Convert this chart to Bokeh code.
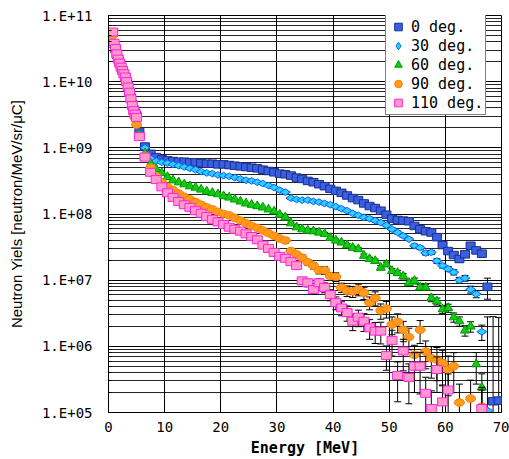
import numpy as np
from bokeh.plotting import figure
from bokeh.models import (ColumnDataSource, Legend, LegendItem, CustomJSTickFormatter,
                          FixedTicker)
from bokeh.embed import file_html
from bokeh.resources import INLINE

# Neutron energy bins [MeV]
energy = [0.75, 1.0, 1.25, 1.5, 1.75, 2.0, 2.25, 2.5, 2.75, 3.0, 3.25, 3.5, 3.75,
          4.0, 4.25, 4.5, 4.75, 5.0,
          5.5, 6.5, 7.5, 8.5, 9.5, 10.5, 11.5, 12.5, 13.5, 14.5, 15.5, 16.5, 17.5,
          18.5, 19.5, 20.5, 21.5, 22.5, 23.5, 24.5, 25.5, 26.5, 27.5, 28.5, 29.5,
          30.5, 31.5, 32.5, 33.5, 34.5, 35.5, 36.5, 37.5, 38.5, 39.5, 40.5, 41.5,
          42.5, 43.5, 44.5, 45.5, 46.5, 47.5, 48.5, 49.5, 50.5, 51.5, 52.5, 53.5,
          54.5, 55.5, 56.5, 57.5, 58.5, 59.5, 60.5, 61.5, 62.5, 63.5, 64.5, 65.5,
          66.5, 67.5, 68.5, 69.5]

nan = float("nan")

# log10 of the neutron yield [neutron/MeV/sr/uC] for each angle
log_yield_0 = [10.74, 10.57, 10.49, 10.41, 10.34, 10.28, 10.22, 10.17, 10.12, 10.07, 10.00, 9.93, 9.85,
               9.76, 9.66, 9.58, 9.53, 9.49,
               9.24, 9.02, 8.91, 8.86, 8.83, 8.81, 8.80, 8.79, 8.79, 8.78, 8.78, 8.77, 8.76,
               8.76, 8.75, 8.75, 8.74, 8.73, 8.72, 8.71, 8.70, 8.69, 8.67, 8.65, 8.63,
               8.61, 8.60, 8.58, 8.55, 8.53, 8.50, 8.48, 8.45, 8.42, 8.38, 8.35, 8.32,
               8.28, 8.24, 8.21, 8.16, 8.12, 8.09, 8.05, 7.99, 7.93, 7.91, 7.90, 7.89,
               7.82, 7.77, 7.74, 7.72, 7.65, 7.53, 7.44, 7.38, 7.32, 7.39, 7.52, 7.45,
               7.40, 6.90, 5.17, 5.18]
log_yield_30 = [10.74, 10.57, 10.49, 10.41, 10.33, 10.27, 10.21, 10.16, 10.11, 10.06, 9.99, 9.91, 9.83,
                9.74, 9.64, 9.56, 9.51, 9.47,
                9.22, 9.00, 8.84, 8.80, 8.78, 8.77, 8.75, 8.73, 8.71, 8.69, 8.67, 8.64, 8.62,
                8.61, 8.59, 8.58, 8.57, 8.55, 8.53, 8.51, 8.50, 8.48, 8.46, 8.43, 8.40,
                8.36, 8.33, 8.24, 8.22, 8.21, 8.21, 8.19, 8.18, 8.16, 8.14, 8.11, 8.08,
                8.05, 8.01, 7.98, 7.95, 7.93, 7.90, 7.87, 7.83, 7.77, 7.72, 7.67, 7.62,
                7.52, 7.49, 7.41, 7.42, 7.29, 7.22, 7.17, 7.12, 7.00, 7.03, 6.86, 6.79,
                6.22, 5.03, nan, nan]
log_yield_60 = [10.73, 10.56, 10.48, 10.40, 10.33, 10.27, 10.21, 10.16, 10.11, 10.06, 9.99, 9.91, 9.83,
                9.73, 9.63, 9.55, 9.50, 9.45,
                9.20, 8.92, 8.76, 8.68, 8.62, 8.56, 8.51, 8.48, 8.45, 8.42, 8.40, 8.37, 8.34,
                8.32, 8.30, 8.27, 8.25, 8.22, 8.19, 8.16, 8.14, 8.12, 8.10, 8.07, 8.04,
                7.99, 7.95, 7.86, 7.80, 7.77, 7.75, 7.74, 7.72, 7.70, 7.64, 7.60, 7.57,
                7.53, 7.49, 7.47, 7.37, 7.32, 7.29, 7.19, 7.24, 7.14, 7.11, 7.06, 6.96,
                6.99, 6.89, 6.89, 6.73, 6.68, 6.56, 6.58, 6.44, 6.38, 6.24, 6.30, 5.73,
                5.38, nan, nan, nan]
log_yield_90 = [10.70, 10.55, 10.47, 10.39, 10.32, 10.26, 10.20, 10.15, 10.10, 10.05, 9.98, 9.90, 9.82,
                9.72, 9.62, 9.53, 9.45, 9.35,
                9.18, 8.88, 8.70, 8.57, 8.48, 8.41, 8.36, 8.31, 8.26, 8.22, 8.18, 8.14, 8.10,
                8.07, 8.03, 8.00, 7.98, 7.94, 7.90, 7.86, 7.82, 7.79, 7.75, 7.71, 7.67,
                7.63, 7.60, 7.44, 7.39, 7.34, 7.27, 7.22, 7.15, 7.15, 7.06, 7.05, 6.89,
                6.84, 6.83, 6.86, 6.81, 6.66, 6.73, 6.54, 6.57, 6.33, 6.37, 6.25, 6.14,
                5.87, 6.25, 5.92, 5.82, 5.80, 5.75, 5.65, 5.70, 5.15, nan, 5.21, nan,
                5.09, nan, nan, nan]
log_yield_110 = [10.75, 10.58, 10.50, 10.42, 10.34, 10.28, 10.22, 10.17, 10.12, 10.07, 10.00, 9.92, 9.84,
                 9.74, 9.64, 9.56, 9.51, 9.46,
                 9.17, 8.86, 8.63, 8.52, 8.41, 8.32, 8.25, 8.19, 8.14, 8.10, 8.05, 8.01, 7.96,
                 7.92, 7.88, 7.84, 7.80, 7.77, 7.74, 7.70, 7.66, 7.61, 7.53, 7.48, 7.42,
                 7.36, 7.33, 7.28, 7.22, 6.99, 6.96, 6.86, 6.96, 6.89, 6.78, 6.66, 6.58,
                 6.51, 6.38, 6.44, 6.38, 6.28, 6.23, 6.23, 5.86, 6.09, 5.56, 5.93, 5.53,
                 5.70, 5.70, 5.29, 5.06, 5.65, 5.16, 5.34, nan, nan, nan, nan, nan,
                 5.06, nan, nan, nan]

# Relative statistical errors for the bins from 30.5 MeV upward
err_start = 30.5
rel_err_0 = [0.03, 0.03, 0.03, 0.03, 0.03, 0.03, 0.03, 0.03, 0.03, 0.03, 0.04, 0.04, 0.04, 0.04,
             0.04, 0.04, 0.04, 0.04, 0.05, 0.05, 0.05, 0.05, 0.05, 0.05, 0.06, 0.06, 0.06, 0.06,
             0.07, 0.07, 0.08, 0.08, 0.10, 0.08, 0.06, 0.07, 0.08, 0.35, 18.0, 17.0]
rel_err_30 = [0.03, 0.03, 0.03, 0.03, 0.03, 0.03, 0.03, 0.03, 0.04, 0.04, 0.04, 0.04, 0.04, 0.04,
              0.04, 0.04, 0.05, 0.05, 0.05, 0.05, 0.05, 0.05, 0.05, 0.05, 0.06, 0.06, 0.07, 0.07,
              0.08, 0.08, 0.09, 0.09, 0.10, 0.10, 0.12, 0.12, 0.26, 25.0, 0.0, 0.0]
rel_err_60 = [0.04, 0.04, 0.04, 0.04, 0.04, 0.04, 0.05, 0.05, 0.05, 0.05, 0.05, 0.05, 0.05, 0.05,
              0.05, 0.06, 0.06, 0.07, 0.07, 0.08, 0.08, 0.09, 0.09, 0.10, 0.10, 0.10, 0.10, 0.12,
              0.12, 0.14, 0.14, 0.16, 0.16, 0.18, 0.18, 0.50, 0.60, 0.0, 0.0, 0.0]
rel_err_90 = [0.06, 0.10, 0.08, 0.09, 0.10, 0.10, 0.11, 0.12, 0.13, 0.14, 0.15, 0.16, 0.18, 0.19,
              0.20, 0.21, 0.22, 0.24, 0.26, 0.28, 0.30, 0.32, 0.34, 0.36, 0.40, 0.38, 0.45, 0.50,
              0.52, 0.55, 0.60, 0.60, 0.90, 0.0, 0.90, 0.0, 0.95, 0.0, 0.0, 0.0]
rel_err_110 = [0.06, 0.07, 0.08, 0.09, 0.12, 0.13, 0.15, 0.15, 0.17, 0.19, 0.22, 0.24, 0.26, 0.28,
               0.28, 0.30, 0.33, 0.35, 0.36, 0.40, 0.42, 0.60, 0.50, 0.60, 0.60, 0.62, 0.75, 0.85,
               0.55, 0.80, 0.75, 0.0, 0.0, 0.0, 0.0, 0.0, 0.90, 0.0, 0.0, 0.0]

x_ticks = [0, 10, 20, 30, 40, 50, 60, 70]
y_decades = [1e5, 1e6, 1e7, 1e8, 1e9, 1e10, 1e11]
series_labels = ["0 deg.", "30 deg.", "60 deg.", "90 deg.", "110 deg."]

p = figure(width=509, height=459, x_range=(0, 70), y_range=(1e5, 1e11),
           y_axis_type="log", output_backend="svg", toolbar_location=None,
           min_border_left=108, min_border_right=8, min_border_top=15, min_border_bottom=47)
p.background_fill_color = "white"
p.border_fill_color = "white"
p.outline_line_color = "black"
p.outline_line_width = 1

# axes
mono = "DejaVu Sans Mono"
p.xaxis.ticker = FixedTicker(ticks=x_ticks)
p.xaxis.major_tick_in = 4
p.xaxis.major_tick_out = 0
p.xaxis.minor_tick_line_color = None
p.xaxis.major_label_standoff = 9
p.xaxis.major_label_text_font = mono
p.xaxis.major_label_text_font_size = "14px"
p.xaxis.major_label_text_color = "black"
p.xaxis.axis_label = "Energy [MeV]"
p.xaxis.axis_label_text_font = mono
p.xaxis.axis_label_text_font_size = "15px"
p.xaxis.axis_label_text_font_style = "bold"
p.xaxis.axis_label_text_color = "black"
p.xaxis.axis_label_standoff = 4
p.xaxis.axis_line_color = "black"
p.xaxis.major_tick_line_color = "black"

minor = [m * d for d in y_decades[:-1] for m in (2, 3, 4, 5, 6, 7, 8, 9)]
p.yaxis.ticker = FixedTicker(ticks=y_decades, minor_ticks=minor)
p.yaxis.formatter = CustomJSTickFormatter(code="""
    const e = Math.round(Math.log10(tick));
    return '1.E+' + (e < 10 ? '0' + e : '' + e);
""")
p.yaxis.major_tick_in = 5
p.yaxis.major_tick_out = 0
p.yaxis.minor_tick_in = 3
p.yaxis.minor_tick_out = 0
p.yaxis.major_tick_line_color = "black"
p.yaxis.minor_tick_line_color = "black"
p.yaxis.major_label_standoff = 16
p.yaxis.major_label_text_font = mono
p.yaxis.major_label_text_font_size = "14px"
p.yaxis.major_label_text_color = "black"
p.yaxis.axis_line_color = "black"
p.yaxis.axis_label = "Neutron Yiels [neutron/MeV/sr/μC]"
p.yaxis.axis_label_text_font = "Liberation Sans"
p.yaxis.axis_label_text_font_size = "15px"
p.yaxis.axis_label_text_font_style = "normal"
p.yaxis.axis_label_text_color = "black"
p.yaxis.axis_label_standoff = 14

# grid
p.xgrid.grid_line_color = "black"
p.xgrid.grid_line_width = 1
p.ygrid.grid_line_color = "black"
p.ygrid.minor_grid_line_color = "black"
p.ygrid.minor_grid_line_alpha = 0.85

styles = [
    dict(kind="rect", w=9, h=7.5, fill="#3A5FE0", line="#1A2F8F"),
    dict(kind="diamond", size=10, fill="#33CCFF", line="#0066FF"),
    dict(kind="triangle", size=9, fill="#11CC11", line="#009900"),
    dict(kind="ellipse", w=10, h=7.5, fill="#FF9A1F", line="#FF7F00"),
    dict(kind="rect", w=10, h=8, fill="#FF99CC", line="#FF22DD"),
]
all_logs = [log_yield_0, log_yield_30, log_yield_60, log_yield_90, log_yield_110]
all_errs = [rel_err_0, rel_err_30, rel_err_60, rel_err_90, rel_err_110]

e_arr = np.array(energy)
legend_renderers = []
for logs, errs, st in zip(all_logs, all_errs, styles):
    y = np.power(10.0, np.array(logs))
    ok = ~np.isnan(y)

    # error bars on the high-energy tail
    rel = np.zeros_like(y)
    i0 = energy.index(err_start)
    rel[i0:] = errs
    has = ok & (rel > 0)
    ex = e_arr[has]
    ey = y[has]
    er = rel[has]
    up = ey * (1 + er)
    lo = np.where(er < 1, ey * (1 - er), 1e3)
    err_src = ColumnDataSource(dict(x=ex, up=up, lo=lo))
    p.segment(x0="x", y0="lo", x1="x", y1="up", source=err_src,
              line_color="black", line_width=1)
    p.scatter(x="x", y="up", source=err_src, marker="dash", size=7,
              line_color="black", line_width=1)
    p.scatter(x="x", y="lo", source=err_src, marker="dash", size=7,
              line_color="black", line_width=1)

    src = ColumnDataSource(dict(x=e_arr[ok], y=y[ok]))
    common = dict(fill_color=st["fill"], line_color=st["line"], line_width=1)
    if st["kind"] == "rect":
        # small square underneath each rectangle, used for the legend glyph
        legend_renderers.append(p.scatter(x="x", y="y", marker="square", size=5,
                                          source=src, **common))
        p.rect(x="x", y="y", width=st["w"], height=st["h"], width_units="screen",
               height_units="screen", source=src, **common)
    elif st["kind"] == "ellipse":
        legend_renderers.append(p.scatter(x="x", y="y", marker="circle", size=5,
                                          source=src, **common))
        p.ellipse(x="x", y="y", width=st["w"], height=st["h"], width_units="screen",
                  height_units="screen", source=src, **common)
    elif st["kind"] == "diamond":
        legend_renderers.append(p.scatter(x="x", y="y", marker="diamond", size=st["size"],
                                          angle=np.pi / 2, source=src, **common))
    else:
        legend_renderers.append(p.scatter(x="x", y="y", marker="triangle", size=st["size"],
                                          source=src, **common))

legend = Legend(items=[LegendItem(label=lab, renderers=[r])
                       for lab, r in zip(series_labels, legend_renderers)],
                location=(277, 297), margin=0, padding=2, spacing=0,
                glyph_width=20, glyph_height=19, label_height=15, label_standoff=3,
                label_text_font=mono, label_text_font_size="15px",
                label_text_color="black",
                border_line_color="black", border_line_width=1,
                background_fill_color="white", background_fill_alpha=1.0)
p.add_layout(legend)

open("out.html", "w").write(file_html(p, INLINE))
